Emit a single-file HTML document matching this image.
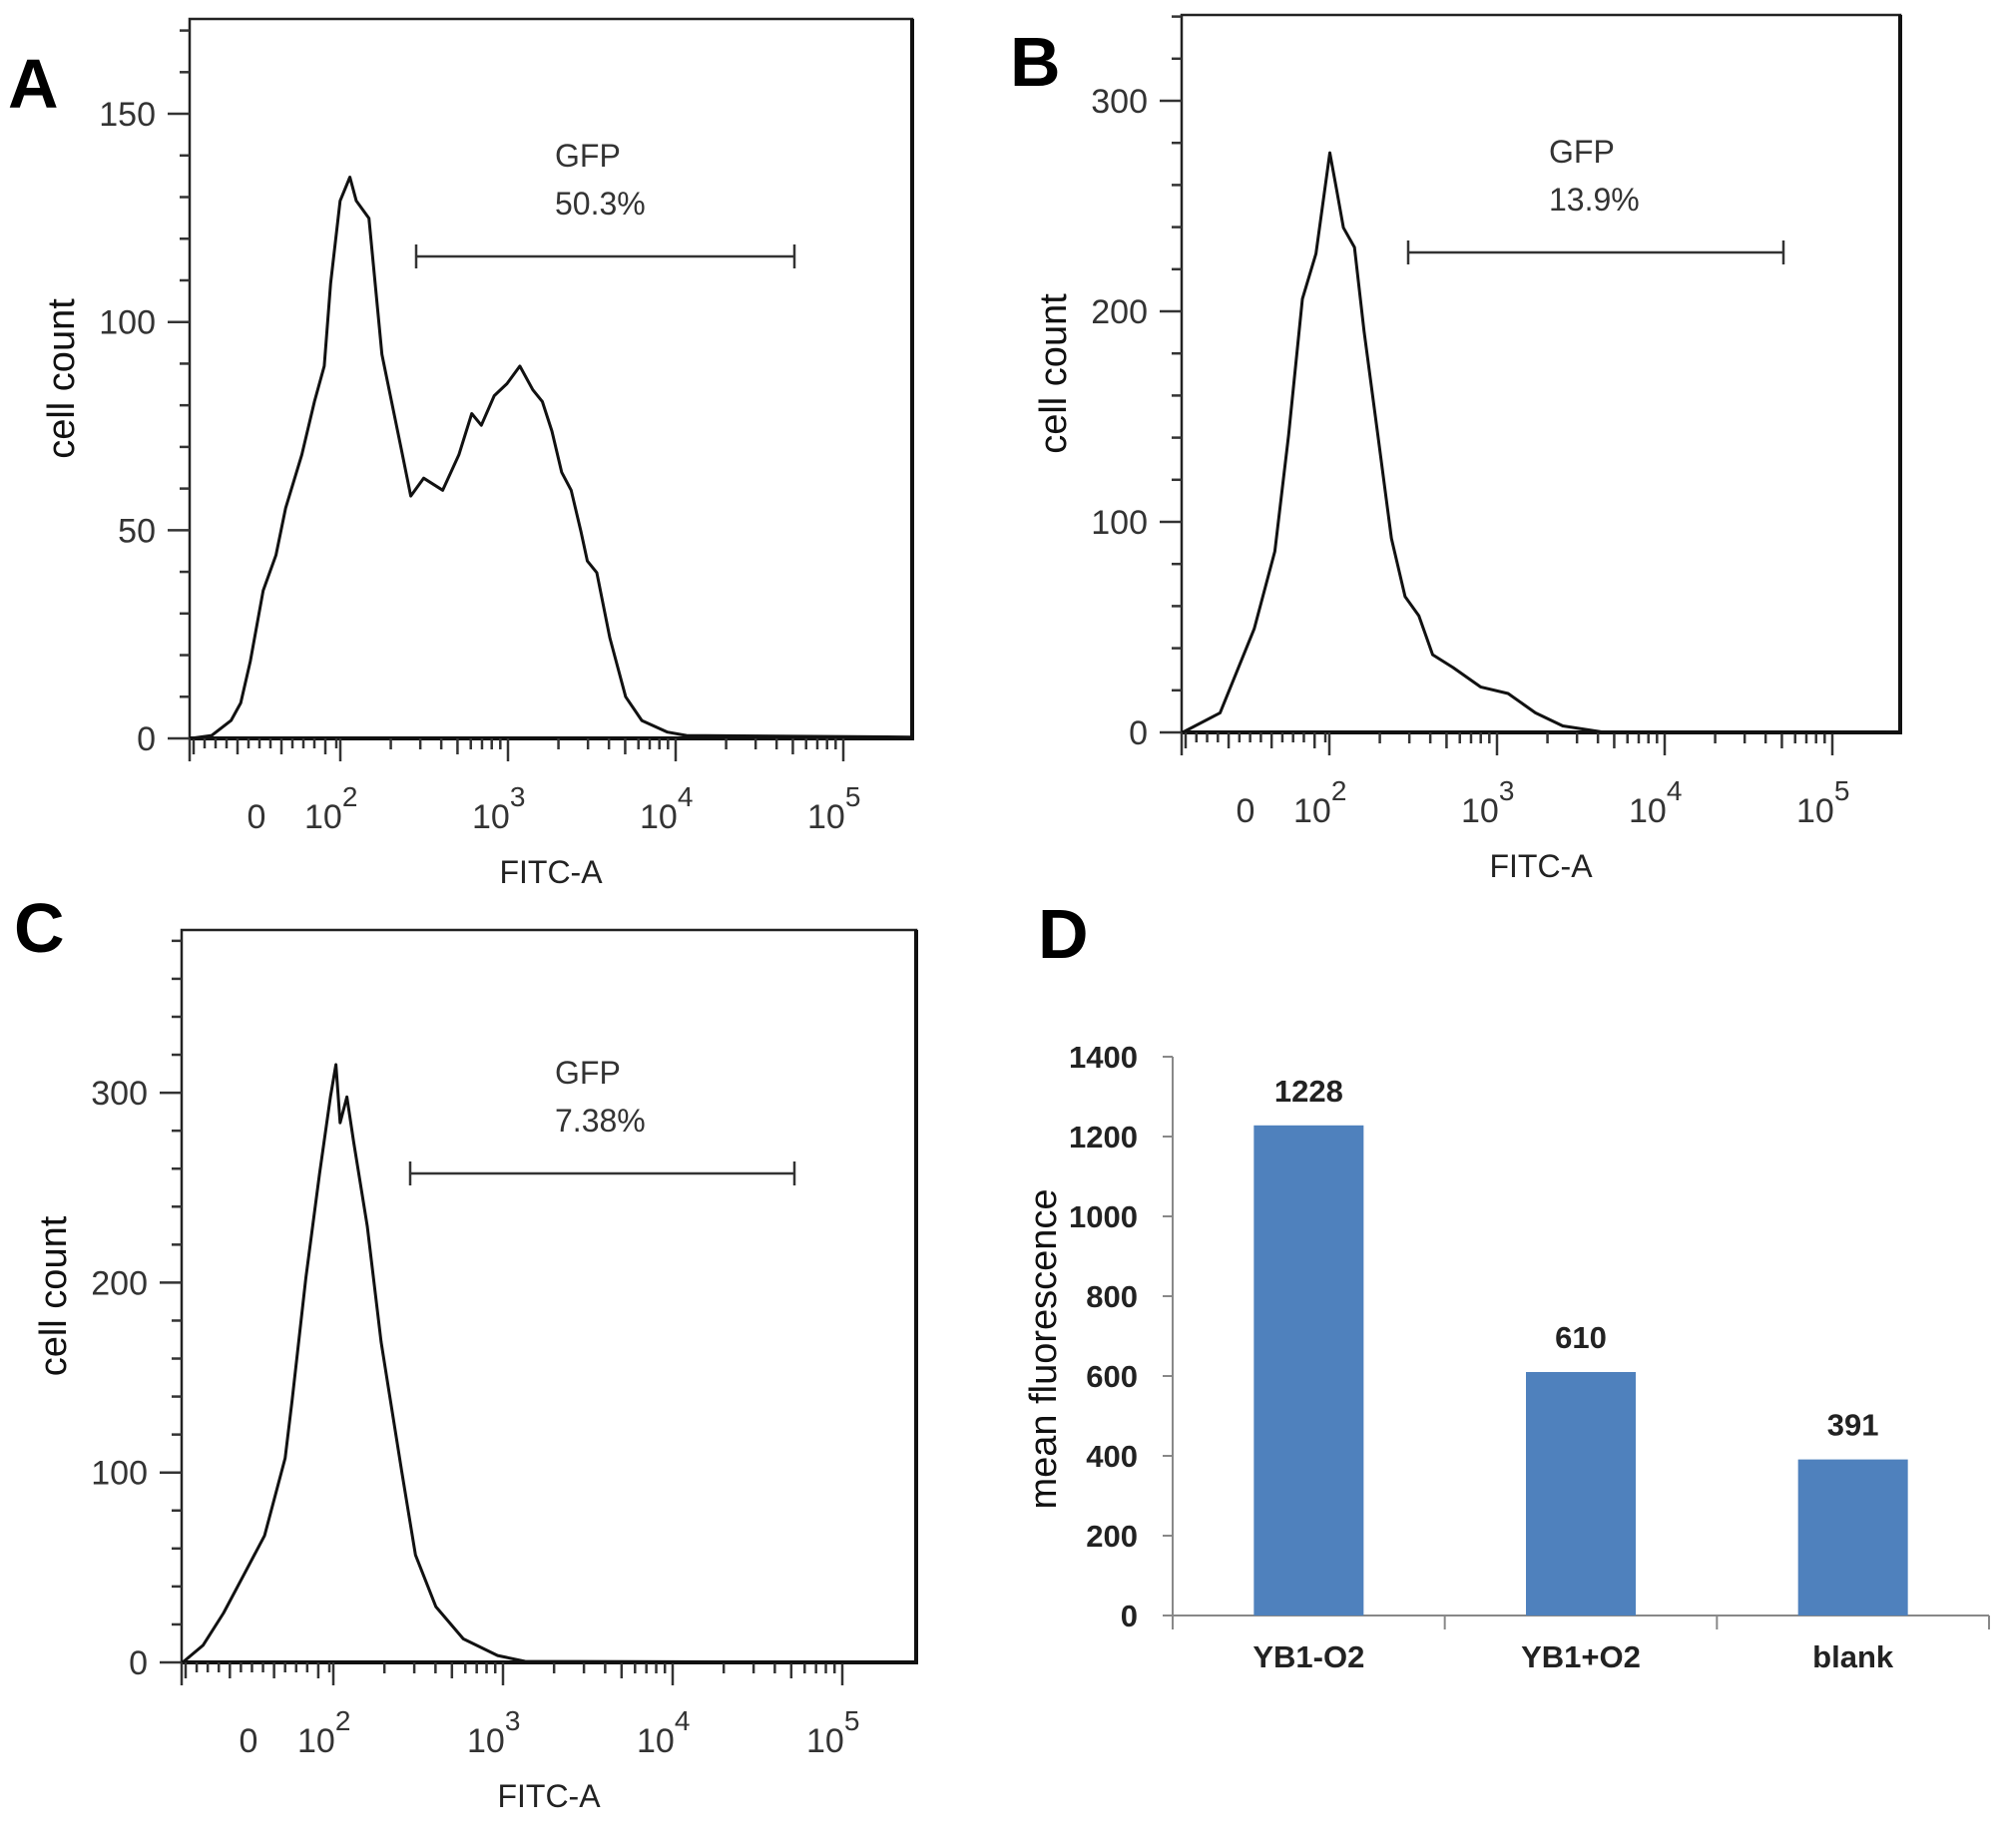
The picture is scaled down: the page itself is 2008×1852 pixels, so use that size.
<!DOCTYPE html>
<html><head><meta charset="utf-8"><style>
html,body{margin:0;padding:0;background:#fff;}
svg{display:block;}
text{font-family:"Liberation Sans",Arial,sans-serif;}
</style></head><body>
<svg id="fig" width="2008" height="1852" viewBox="0 0 2008 1852" xmlns="http://www.w3.org/2000/svg">
<rect x="0" y="0" width="2008" height="1852" fill="#fff"/>
<text x="8" y="108" font-size="70" font-weight="bold">A</text>
<text x="1012" y="86" font-size="70" font-weight="bold">B</text>
<text x="14" y="954" font-size="70" font-weight="bold">C</text>
<text x="1040" y="960" font-size="70" font-weight="bold">D</text>
<g id="pa"></g>
<g id="pb"></g>
<g id="pc"></g>
<g id="pd"></g>
</svg>
<script>
// Panel A data (x in log-decades, y in cell counts)
const aDecades = [1.107,1.233,1.348,1.406,1.463,1.540,1.616,1.674,1.770,1.846,1.904,1.942,1.999,2.057,2.095,2.171,2.248,2.363,2.420,2.497,2.611,2.707,2.784,2.841,2.918,2.994,3.071,3.148,3.205,3.262,3.320,3.377,3.435,3.473,3.530,3.607,3.702,3.798,3.951,4.065,5.41];
const aCounts = [0,0.7,4.3,8.5,18.5,35.5,44,55.3,68.1,80.9,89.4,109.3,129.1,134.8,129.1,124.9,92.2,69.6,58.2,62.5,59.6,68.1,78,75.2,82.3,85.2,89.4,83.7,80.9,73.8,63.9,59.6,49.7,42.6,39.8,24.2,10,4.3,1.5,0.7,0.3];
const aYTicks = [0,50,100,150];
// Panel B data
const bDecades = [1.062,1.348,1.552,1.675,1.757,1.839,1.920,2.003,2.043,2.084,2.15,2.207,2.289,2.37,2.452,2.534,2.616,2.738,2.902,3.066,3.229,3.392,3.638,5.63];
const bCounts = [0,9.3,49.2,86,141.3,205.9,227.4,275.3,258,239.7,230.4,190.5,141.3,92.2,64.5,55.4,36.9,30.8,21.6,18.5,9.3,3.1,0.1,0];
const bYTicks = [0,100,200,300];
// Panel C data
const cDecades = [1.046,1.232,1.353,1.474,1.595,1.716,1.757,1.838,1.918,1.983,2.015,2.04,2.08,2.12,2.2,2.282,2.403,2.484,2.604,2.766,2.968,3.13,5.66];
const cCounts = [0,9,26,46.4,66.8,107.5,138,202.6,257,297.8,314.8,284.2,297.8,274,229.8,168.7,100.7,56.6,29.4,12.4,3.6,0.5,0];
const cYTicks = [0,100,200,300];
const gateLabels = ["50.3%","13.9%","7.38%"];
// Panel D data
const dCategories = ["YB1-O2","YB1+O2","blank"];
const dValues = [1228,610,391];
const dYTicks = [0,200,400,600,800,1000,1200,1400];

const NS="http://www.w3.org/2000/svg";
function mk(parent,tag,attrs){const e=document.createElementNS(NS,tag);for(const k in attrs)e.setAttribute(k,attrs[k]);parent.appendChild(e);return e;}

function flowPanel(g,cfg,decs,counts,yticks,minorStep,gateText,nm){
  const xs=d=>cfg.x2+(d-2)*cfg.dec;
  const xc=d=>Math.min(Math.max(xs(d),cfg.L+1),cfg.R-1);
  const ys=c=>cfg.y0-c*cfg.ppc;
  const fr=mk(g,'rect',{x:cfg.L,y:cfg.T,width:cfg.R-cfg.L,height:cfg.y0-cfg.T,fill:'none',stroke:'#222','stroke-width':2.5});
  
  
  mk(g,'line',{x1:cfg.L,y1:cfg.y0,x2:cfg.R+2,y2:cfg.y0,stroke:'#111','stroke-width':4});
  mk(g,'line',{x1:cfg.R,y1:cfg.T,x2:cfg.R,y2:cfg.y0,stroke:'#111','stroke-width':4});
  const maxC=(cfg.y0-cfg.T)/cfg.ppc;
  for(let c=0;c<=maxC;c+=minorStep){
    const y=ys(c);
    const major=yticks.includes(c);
    mk(g,'line',{x1:cfg.L-(major?22:10),y1:y,x2:cfg.L,y2:y,stroke:'#333','stroke-width':2.5});
  }
  yticks.forEach(c=>{
    const t=mk(g,'text',{x:cfg.L-34,y:ys(c)+12,'font-size':34,'text-anchor':'end',fill:'#333'});
    t.textContent=c;
    
    
  });
  for(let k=2;k<=5;k++){
    const x=xs(k);
    mk(g,'line',{x1:x,y1:cfg.y0,x2:x,y2:cfg.y0+23,stroke:'#333','stroke-width':2.5});
    if(k<5){for(let m=2;m<=9;m++){const xx=xs(k+Math.log10(m));
      if(xx<cfg.R) mk(g,'line',{x1:xx,y1:cfg.y0,x2:xx,y2:cfg.y0+(m===5?16:11),stroke:'#333','stroke-width':2.5});}}
  }
  for(let i=0;i<14;i++){const xx=cfg.L+4+i*(xs(2)-cfg.L-8)/13;
    mk(g,'line',{x1:xx,y1:cfg.y0,x2:xx,y2:cfg.y0+(i%4===0?16:10),stroke:'#333','stroke-width':2.5});}
  mk(g,'line',{x1:cfg.L,y1:cfg.y0,x2:cfg.L,y2:cfg.y0+23,stroke:'#333','stroke-width':2.5});
  const zx=xs(1.5);
  const z=mk(g,'text',{x:zx,y:cfg.y0+90,'font-size':34,'text-anchor':'middle',fill:'#333'});z.textContent='0';
  
  
  for(let k=2;k<=5;k++){
    const t=mk(g,'text',{x:xs(k)-36,y:cfg.y0+90,'font-size':34,fill:'#333'});
    
    
    t.textContent='10';
    const s=mk(t,'tspan',{dy:-22,'font-size':28});s.textContent=String(k);
  }
  const xt=mk(g,'text',{x:(cfg.L+cfg.R)/2,y:cfg.y0+145,'font-size':32,'text-anchor':'middle',fill:'#222'});xt.textContent='FITC-A';
  
  
  const yt=mk(g,'text',{x:0,y:0,'font-size':38,'text-anchor':'middle',fill:'#111',transform:`translate(${cfg.L-116},${(cfg.T+cfg.y0)/2}) rotate(-90)`});yt.textContent='cell count';
  
  
  let d='';decs.forEach((v,i)=>{d+=(i?'L':'M')+xc(v).toFixed(1)+' '+ys(counts[i]).toFixed(1);});
  const p=mk(g,'path',{d:d,fill:'none',stroke:'#111','stroke-width':3,'stroke-linejoin':'round'});
  
  
  const gg=mk(g,'g',{});
  
  
  mk(gg,'line',{x1:cfg.gx1,y1:cfg.gy,x2:cfg.gx2,y2:cfg.gy,stroke:'#333','stroke-width':2.5});
  mk(gg,'line',{x1:cfg.gx1,y1:cfg.gy-12,x2:cfg.gx1,y2:cfg.gy+12,stroke:'#333','stroke-width':2.5});
  mk(gg,'line',{x1:cfg.gx2,y1:cfg.gy-12,x2:cfg.gx2,y2:cfg.gy+12,stroke:'#333','stroke-width':2.5});
  const t1=mk(g,'text',{x:cfg.tx,y:cfg.gy-90,'font-size':32,fill:'#333'});t1.textContent='GFP';
  
  
  const t2=mk(g,'text',{x:cfg.tx,y:cfg.gy-42,'font-size':32,fill:'#333'});t2.textContent=gateText;
  
  
}

flowPanel(document.getElementById('pa'),{L:190,T:19,R:914,y0:740,ppc:4.173,x2:341,dec:168,gx1:417,gx2:796,gy:257,tx:556},aDecades,aCounts,aYTicks,10,gateLabels[0],'panel-a');
flowPanel(document.getElementById('pb'),{L:1184,T:15,R:1904,y0:734,ppc:2.11,x2:1332,dec:168,gx1:1411,gx2:1787,gy:253,tx:1552},bDecades,bCounts,bYTicks,20,gateLabels[1],'panel-b');
flowPanel(document.getElementById('pc'),{L:182,T:932,R:918,y0:1666,ppc:1.903,x2:334,dec:170,gx1:411,gx2:796,gy:1176,tx:556},cDecades,cCounts,cYTicks,20,gateLabels[2],'panel-c');

(function(){
  const g=document.getElementById('pd');
  const L=1175,R=1993,y0=1619,ppu=0.4;
  const ys=v=>y0-v*ppu;
  const band=(R-L)/dCategories.length;
  const bw=110;
  mk(g,'line',{x1:L,y1:ys(1400),x2:L,y2:y0,stroke:'#888','stroke-width':2});
  mk(g,'line',{x1:L,y1:y0,x2:R,y2:y0,stroke:'#888','stroke-width':2});
  dYTicks.forEach(v=>{
    mk(g,'line',{x1:L-10,y1:ys(v),x2:L,y2:ys(v),stroke:'#888','stroke-width':2});
    const t=mk(g,'text',{x:L-35,y:ys(v)+11,'font-size':31,'font-weight':'bold','text-anchor':'end',fill:'#222','font-family':'"Liberation Sans Narrow","Liberation Sans",sans-serif'});
    t.textContent=v;
    
    
  });
  for(let i=0;i<=dCategories.length;i++){const x=L+i*band;mk(g,'line',{x1:x,y1:y0,x2:x,y2:y0+14,stroke:'#888','stroke-width':2});}
  dCategories.forEach((c,i)=>{
    const cx=L+band*(i+0.5);
    const r=mk(g,'rect',{x:cx-bw/2,y:ys(dValues[i]),width:bw,height:dValues[i]*ppu,fill:'#4F81BD'});
    
    
    const v=mk(g,'text',{x:cx,y:ys(dValues[i])-24,'font-size':31,'font-weight':'bold','text-anchor':'middle',fill:'#222','font-family':'"Liberation Sans Narrow","Liberation Sans",sans-serif'});
    v.textContent=dValues[i];
    
    
    const t=mk(g,'text',{x:cx,y:y0+52,'font-size':31,'font-weight':'bold','text-anchor':'middle',fill:'#222'});
    t.textContent=c;
    
    
  });
  const yt=mk(g,'text',{x:0,y:0,'font-size':38,'text-anchor':'middle',fill:'#111',transform:`translate(1058,1352) rotate(-90)`});
  yt.textContent='mean fluorescence';
  
  
})();
</script>
</body></html>
